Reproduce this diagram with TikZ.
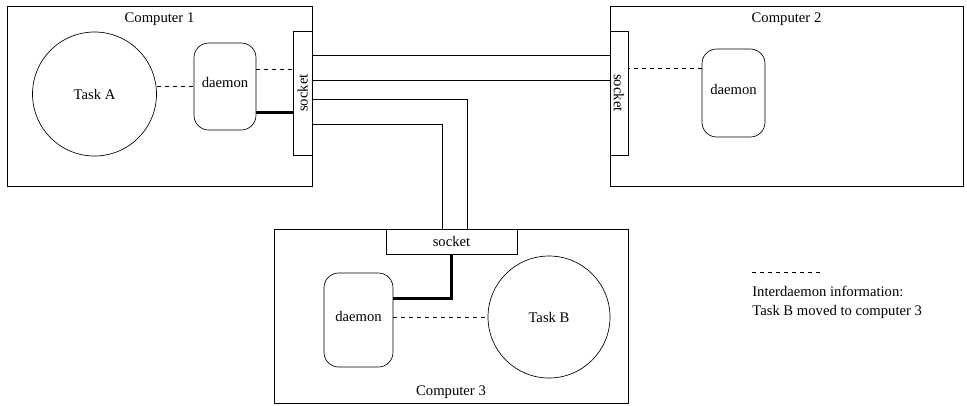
\documentclass[tikz,border=0pt]{standalone}
\usepackage{fontspec}
\setmainfont{Liberation Serif}
\usetikzlibrary{positioning, calc}
\newcommand{\pxu}{0.75pt}

\begin{document}
\begin{tikzpicture}[
    x=0.75pt, y=-0.75pt,
    line width=0.5pt,
    font=\fontsize{11}{14}\selectfont,
    computer/.style={draw, rectangle, inner sep=0pt},
    task/.style={draw, circle, inner sep=0pt},
    daemon/.style={draw, rectangle, rounded corners=11pt, inner sep=0pt, text depth=6pt},
    socket/.style={draw, rectangle, fill=white, inner sep=0pt},
    wire/.style={line width=0.5pt},
    local/.style={line width=2.2pt},
    info/.style={dashed}
]
    \useasboundingbox (0,0) rectangle (967,405);

    % Computer 1
    \node[computer, minimum width=305*\pxu, minimum height=180*\pxu] (comp1) at (159.5, 96) {};
    \node[below=2pt of comp1.north] (comp1label) {Computer 1};
    \node[task, minimum size=124*\pxu] (taskA) at (94.5, 94) {Task A};
    \node[daemon, minimum width=62*\pxu, minimum height=87*\pxu] (daemon1) at (225, 86.5) {daemon};
    \node[socket, minimum width=19*\pxu, minimum height=124*\pxu] (socket1) at (302.5, 93) {\rotatebox{90}{socket}};

    % Computer 2
    \node[computer, minimum width=353*\pxu, minimum height=180*\pxu] (comp2) at (786.5, 96) {};
    \node[below=2pt of comp2.north] (comp2label) {Computer 2};
    \node[daemon, minimum width=63*\pxu, minimum height=88*\pxu] (daemon2) at (733.5, 93) {daemon};
    \node[socket, minimum width=18*\pxu, minimum height=124*\pxu] (socket2) at (619, 93) {\rotatebox{-90}{socket}};

    % Computer 3
    \node[computer, minimum width=354*\pxu, minimum height=174*\pxu] (comp3) at (451, 316) {};
    \node[above=0pt of comp3.south] (comp3label) {Computer 3};
    \node[daemon, minimum width=69*\pxu, minimum height=94*\pxu] (daemon3) at (358.5, 320) {daemon};
    \node[task, minimum size=122*\pxu] (taskB) at (549, 317) {Task B};
    \node[socket, minimum width=131*\pxu, minimum height=25*\pxu] (socket3) at (451.5, 241.5) {socket};

    % Wire ends on the sockets
    \coordinate (s1a) at ($(socket1.north east)!0.2!(socket1.south east)$);
    \coordinate (s1b) at ($(socket1.north east)!0.4!(socket1.south east)$);
    \coordinate (s1c) at ($(socket1.north east)!0.55!(socket1.south east)$);
    \coordinate (s1d) at ($(socket1.north east)!0.75!(socket1.south east)$);
    \coordinate (s3a) at ($(socket3.north west)!0.62!(socket3.north east)$);
    \coordinate (s3b) at ($(socket3.north west)!0.43!(socket3.north east)$);

    % Network between the sockets
    \draw[wire] (s1a) -- (s1a -| socket2.west);
    \draw[wire] (s1b) -- (s1b -| socket2.west);
    \draw[wire] (s1c) -| (s3a);
    \draw[wire] (s1d) -| (s3b);

    % Daemons to sockets
    \coordinate (d1info) at ($(daemon1.north east)!0.3!(daemon1.south east)$);
    \coordinate (d1link) at ($(daemon1.north east)!0.8!(daemon1.south east)$);
    \coordinate (d2info) at ($(daemon2.north west)!0.22!(daemon2.south west)$);
    \coordinate (d3link) at ($(daemon3.north east)!0.27!(daemon3.south east)$);
    \draw[info] (d1info) -- (d1info -| socket1.west);
    \draw[local] (d1link) -- (d1link -| socket1.west);
    \draw[info] (d2info) -- (d2info -| socket2.east);
    \draw[local] (d3link) -| (socket3.south);

    % Tasks to daemons
    \draw[info] (taskA.east |- daemon1.west) -- (daemon1.west);
    \draw[info] (daemon3.east |- taskB.west) -- (taskB.west);

    % Legend
    \coordinate (legendA) at (752, 272.7);
    \coordinate (legendB) at (820, 272.7);
    \draw[info] (legendA) -- (legendB);
    \node[anchor=north west, align=left, inner sep=0pt] (legend) at (752, 286) {Interdaemon information:\\Task B moved to computer 3};
\end{tikzpicture}
\end{document}
